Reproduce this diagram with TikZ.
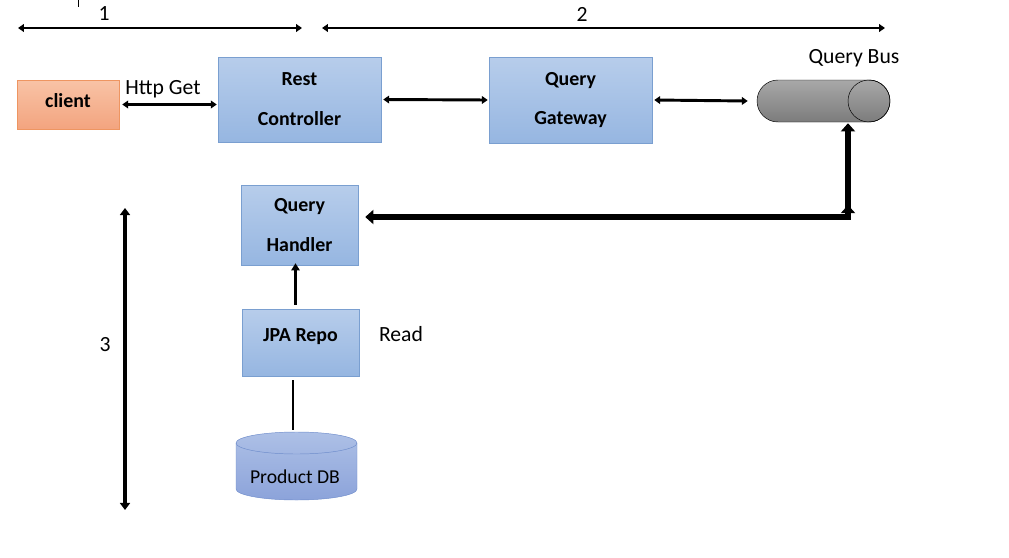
\documentclass[tikz,border=0pt]{standalone}
\usepackage{fontspec}
\setmainfont{Carlito}
\usepackage{tikz}
\usetikzlibrary{positioning,arrows.meta}
\definecolor{boxtop}{HTML}{B7CDEB}
\definecolor{boxbottom}{HTML}{96B6E1}
\definecolor{boxline}{HTML}{7A9FD0}
\definecolor{clienttop}{HTML}{F8C3A6}
\definecolor{clientbottom}{HTML}{F3A47F}
\definecolor{clientline}{HTML}{EE9561}
\definecolor{dbtop}{HTML}{ADC0E6}
\definecolor{dbbottom}{HTML}{8CA3DA}
\definecolor{dbline}{HTML}{6E8CCB}
\definecolor{bustop}{HTML}{A8A8A8}
\definecolor{busbottom}{HTML}{7C7C7C}

\begin{document}
\begin{tikzpicture}[x=0.03cm, y=-0.03cm,
    box/.style={draw=boxline, top color=boxtop, bottom color=boxbottom, align=center,
        font=\fontsize{17}{34}\selectfont\bfseries},
    label/.style={font=\fontsize{18.5}{22}\selectfont},
    thinarrow/.style={line width=2.5pt, {Triangle[length=5pt,width=6.5pt]}-{Triangle[length=5pt,width=6.5pt]}},
    uparrow/.style={line width=2.5pt, -{Triangle[length=6pt,width=7pt]}},
    scalearrow/.style={line width=3.4pt, {Triangle[length=6pt,width=8.5pt]}-{Triangle[length=6pt,width=8.5pt]}},
    thickarrow/.style={line width=5.5pt, -{Triangle[length=7pt,width=12pt]}}]
    \useasboundingbox (0,0) rectangle (1009,557);

    \draw[line width=0.8pt] (78,0) -- (78,7);

    % scale arrows
    \coordinate (oneL) at (18,28);
    \coordinate (oneR) at (302,28);
    \coordinate (twoL) at (322,28);
    \coordinate (twoR) at (885,28);
    \coordinate (threeT) at (125,208);
    \coordinate (threeB) at (125,510);
    \draw[thinarrow] (oneL) -- (oneR);
    \draw[thinarrow] (twoL) -- (twoR);
    \draw[scalearrow] (threeT) -- (threeB);
    \node[label] (one) at (104,14) {1};
    \node[label] (two) at (582,14) {2};
    \node[label] (three) at (105,345) {3};

    % boxes
    \node[box, draw=clientline, top color=clienttop, bottom color=clientbottom,
        minimum width=102*0.03cm, minimum height=49*0.03cm, text depth=7pt] (client) at (68,104.5) {client};
    \node[box, minimum width=163*0.03cm, minimum height=85*0.03cm] (rest) at (299.5,99.5) {Rest\\Controller};
    \node[box, minimum width=163*0.03cm, minimum height=86*0.03cm] (gateway) at (570.5,100) {Query\\Gateway};
    \node[box, minimum width=117*0.03cm, minimum height=80*0.03cm] (handler) at (299.5,225) {Query\\Handler};
    \node[box, minimum width=117*0.03cm, minimum height=67*0.03cm, text depth=12.6pt] (jpa) at (300.5,342.5) {JPA Repo};

    % query bus
    \node[minimum width=133*0.03cm, minimum height=42*0.03cm, inner sep=0pt] (bus) at (823.5,101) {};
    \shade[draw, top color=bustop, bottom color=busbottom]
        (778,80) -- (869,80) arc[start angle=-90, end angle=90, radius=21]
        -- (778,122) arc[start angle=90, end angle=270, radius=21] -- cycle;
    \draw (869,101) circle[radius=21];
    \node[label] (busname) at (854,58) {Query Bus};

    % product db
    \node[minimum width=121*0.03cm, minimum height=68*0.03cm, inner sep=0pt] (db) at (296.5,466) {};
    \shade[draw=dbline, top color=dbtop, bottom color=dbbottom]
        (236,443) -- (236,489) arc[start angle=180, end angle=0, x radius=60.5, y radius=11]
        -- (357,443) arc[start angle=0, end angle=-180, x radius=60.5, y radius=11] -- cycle;
    \draw[dbline] (236,443) arc[start angle=180, end angle=0, x radius=60.5, y radius=11];
    \node[font=\fontsize{16.8}{20}\selectfont] (dbtext) at (295,477) {Product DB};

    \node[label] (http) at (163,89) {Http Get};
    \node[label] (read) at (401,334) {Read};

    % connectors
    \draw[thinarrow] ([xshift=0.09cm]client.east) -- ([xshift=-0.03cm]client.east -| rest.west);
    \draw[thinarrow] ([xshift=0.06cm]rest.east) -- ([xshift=-0.03cm]gateway.west);
    \draw[thinarrow] ([xshift=0.06cm]gateway.east) -- ([xshift=-0.27cm]bus.west);

    \coordinate (corner) at (848,217);
    \draw[thickarrow] (corner) -- ([yshift=-0.03cm]bus.south -| corner);
    \draw[thickarrow] ([xshift=0.08cm]corner) -- ([xshift=0.21cm]handler.east |- corner);
    \draw[thickarrow] (corner) -- ++(0,-12);

    \draw[uparrow] ([shift={(-5,-4)}]jpa.north) -- ([shift={(-4,-2)}]handler.south);
    \draw[line width=2.5pt] ([shift={(-3.5,-2)}]db.north) -- ([shift={(-7.5,4)}]jpa.south);
\end{tikzpicture}
\end{document}
